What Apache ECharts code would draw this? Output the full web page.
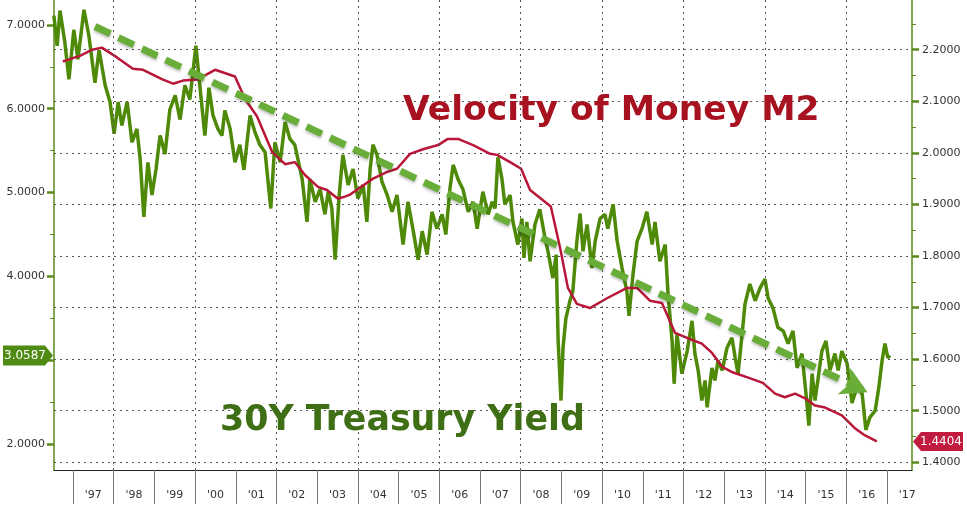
<!DOCTYPE html>
<html>
<head>
<meta charset="utf-8">
<title>30Y Treasury Yield vs Velocity of Money M2</title>
<script src="https://cdn.jsdelivr.net/npm/echarts@6/dist/echarts.min.js"></script>
<style>
  html, body { margin: 0; padding: 0; background: #fff; }
  #chart { width: 967px; height: 509px; }
</style>
</head>
<body>
<div id="chart"></div>
<script>
// 30Y Treasury yield, left axis: [year, %]
var yieldData = [
  [1996.53,7.11],[1996.61,6.75],[1996.68,7.17],[1996.80,6.79],[1996.90,6.35],[1997.02,6.94],
  [1997.12,6.59],[1997.27,7.18],[1997.39,6.87],[1997.54,6.31],[1997.64,6.70],[1997.79,6.28],
  [1997.91,6.08],[1998.01,5.70],[1998.11,6.08],[1998.20,5.80],[1998.33,6.08],[1998.45,5.60],
  [1998.57,5.76],[1998.65,5.40],[1998.74,4.71],[1998.84,5.36],[1998.94,4.97],[1999.04,5.28],
  [1999.14,5.68],[1999.26,5.46],[1999.38,5.99],[1999.51,6.16],[1999.63,5.87],[1999.75,6.28],
  [1999.87,6.11],[2000.02,6.75],[2000.10,6.35],[2000.24,5.68],[2000.34,6.25],[2000.44,5.92],
  [2000.56,5.76],[2000.66,5.68],[2000.73,5.98],[2000.86,5.76],[2000.98,5.36],[2001.10,5.57],
  [2001.20,5.27],[2001.35,5.92],[2001.47,5.72],[2001.59,5.57],[2001.72,5.48],[2001.86,4.81],
  [2001.96,5.60],[2002.09,5.36],[2002.21,5.84],[2002.33,5.64],[2002.45,5.57],[2002.63,5.16],
  [2002.75,4.65],[2002.82,5.16],[2002.95,4.89],[2003.07,5.04],[2003.19,4.74],[2003.27,5.01],
  [2003.36,4.81],[2003.44,4.20],[2003.54,4.97],[2003.63,5.45],[2003.76,5.09],[2003.88,5.28],
  [2004.00,4.93],[2004.13,5.09],[2004.22,4.65],[2004.30,5.28],[2004.37,5.57],[2004.47,5.45],
  [2004.59,5.13],[2004.72,4.97],[2004.84,4.77],[2004.96,4.97],[2005.11,4.38],[2005.23,4.89],
  [2005.35,4.57],[2005.48,4.20],[2005.58,4.54],[2005.70,4.26],[2005.82,4.77],[2005.94,4.57],
  [2006.07,4.74],[2006.16,4.50],[2006.26,5.04],[2006.34,5.33],[2006.46,5.16],[2006.58,5.04],
  [2006.71,4.77],[2006.83,4.89],[2006.93,4.57],[2007.07,5.01],[2007.20,4.74],[2007.30,4.89],
  [2007.37,4.81],[2007.44,5.42],[2007.54,5.16],[2007.61,4.86],[2007.74,4.97],[2007.81,4.65],
  [2007.93,4.38],[2008.03,4.69],[2008.08,4.22],[2008.15,4.65],[2008.23,4.18],[2008.35,4.62],
  [2008.47,4.80],[2008.60,4.45],[2008.67,4.30],[2008.79,3.98],[2008.87,4.26],[2008.92,3.23],
  [2008.99,2.52],[2009.04,3.15],[2009.11,3.50],[2009.21,3.71],[2009.28,3.82],[2009.38,4.42],
  [2009.46,4.75],[2009.53,4.30],[2009.63,4.62],[2009.75,4.10],[2009.83,4.42],[2009.95,4.69],
  [2010.07,4.74],[2010.14,4.57],[2010.27,4.86],[2010.37,4.42],[2010.49,4.10],[2010.61,3.82],
  [2010.66,3.53],[2010.76,4.03],[2010.86,4.42],[2010.98,4.57],[2011.10,4.77],[2011.23,4.38],
  [2011.30,4.65],[2011.42,4.18],[2011.55,4.38],[2011.62,3.79],[2011.72,3.23],[2011.77,2.72],
  [2011.84,3.31],[2011.96,2.84],[2012.09,3.11],[2012.21,3.47],[2012.28,3.08],[2012.36,2.88],
  [2012.45,2.52],[2012.53,2.76],[2012.58,2.44],[2012.70,2.91],[2012.77,2.76],[2012.85,3.00],
  [2012.95,2.88],[2013.07,3.15],[2013.19,3.27],[2013.27,3.03],[2013.34,2.84],[2013.44,3.31],
  [2013.51,3.67],[2013.63,3.91],[2013.76,3.71],[2013.88,3.86],[2014.00,3.97],[2014.08,3.74],
  [2014.20,3.62],[2014.32,3.39],[2014.45,3.35],[2014.57,3.20],[2014.69,3.35],[2014.79,2.91],
  [2014.91,3.08],[2015.01,2.60],[2015.08,2.22],[2015.16,2.84],[2015.23,2.52],[2015.30,2.76],
  [2015.40,3.11],[2015.50,3.23],[2015.60,2.88],[2015.72,3.08],[2015.80,2.88],[2015.89,3.11],
  [2016.02,2.96],[2016.14,2.49],[2016.26,2.68],[2016.39,2.60],[2016.48,2.17],[2016.58,2.32],
  [2016.71,2.40],[2016.80,2.68],[2016.88,3.00],[2016.95,3.20],[2017.02,3.03],[2017.07,3.0587]
];

// Velocity of M2, right axis: [year, ratio]
var velocityData = [
  [1996.75,2.177],[1997.05,2.185],[1997.17,2.188],[1997.47,2.200],[1997.71,2.204],[1998.08,2.185],
  [1998.47,2.163],[1998.72,2.161],[1999.21,2.142],[1999.46,2.134],[1999.70,2.140],[2000.05,2.142],
  [2000.49,2.161],[2000.98,2.148],[2001.23,2.104],[2001.52,2.071],[2001.89,2.002],[2002.21,1.978],
  [2002.45,1.982],[2002.70,1.957],[2003.02,1.934],[2003.24,1.928],[2003.51,1.911],[2003.68,1.915],
  [2003.81,1.919],[2004.37,1.950],[2004.72,1.963],[2004.96,1.969],[2005.28,1.998],[2005.60,2.007],
  [2005.97,2.015],[2006.21,2.027],[2006.46,2.027],[2006.83,2.015],[2007.25,1.998],[2007.42,1.996],
  [2007.74,1.982],[2008.01,1.969],[2008.23,1.928],[2008.74,1.896],[2008.97,1.815],[2009.16,1.738],
  [2009.38,1.707],[2009.70,1.699],[2010.12,1.718],[2010.61,1.738],[2010.86,1.738],[2011.18,1.713],
  [2011.47,1.709],[2011.79,1.651],[2012.09,1.641],[2012.45,1.630],[2012.70,1.612],[2012.95,1.585],
  [2013.22,1.574],[2013.59,1.564],[2013.95,1.554],[2014.25,1.533],[2014.49,1.526],[2014.74,1.533],
  [2014.99,1.524],[2015.23,1.510],[2015.48,1.506],[2015.89,1.491],[2016.21,1.466],[2016.46,1.452],
  [2016.75,1.4404]
];

var yearTicks = [1997,1998,1999,2000,2001,2002,2003,2004,2005,2006,2007,
                 2008,2009,2010,2011,2012,2013,2014,2015,2016,2017];
var gridYears = [1998,2000,2002,2004,2006,2008,2010,2012,2014,2016];
var yieldTicks = [2, 3, 4, 5, 6, 7];
var yieldMinorTicks = [2.5, 3.5, 4.5, 5.5, 6.5];
var velocityTicks = [1.4, 1.5, 1.6, 1.7, 1.8, 1.9, 2.0, 2.1, 2.2];
var velocityMinorTicks = [1.45, 1.55, 1.65, 1.75, 1.85, 1.95, 2.05, 2.15, 2.25];

var xRange = [1996.533, 2017.614];
var yieldRange = [1.692, 7.296];
var velocityRange = [1.385, 2.2963];
var trendFrom = [1997.54, 6.98];
var trendTo = [2016.52, 2.62];

var lastYield = yieldData[yieldData.length - 1];
var lastVelocity = velocityData[velocityData.length - 1];

var FONT = '"DejaVu Sans", Verdana, sans-serif';
var AXIS_GREEN = '#5b8a1c';
var DOTS = { color: '#555', width: 1, type: [2, 4] };

function isStep(v, step) {
  var r = v / step;
  return Math.abs(r - Math.round(r)) < 1e-6;
}

// a second, bare axis on the same side that only carries the short minor ticks
function minorAxis(position, range, values) {
  return {
    type: 'value', position: position, min: range[0], max: range[1],
    axisLine: { show: false },
    axisTick: { show: true, length: 4, customValues: values, lineStyle: { color: AXIS_GREEN, width: 1 } },
    axisLabel: { show: false },
    splitLine: { show: false }
  };
}

var chart = echarts.init(document.getElementById('chart'));

var option = {
  backgroundColor: '#fff',
  animation: false,
  grid: { left: 54, right: 55, top: -3, bottom: 39 },
  xAxis: [
    {
      // year boundaries: long ticks under the axis
      type: 'value', min: xRange[0], max: xRange[1],
      minInterval: 1, maxInterval: 1,
      axisLine: { show: true, lineStyle: { color: '#222', width: 1 } },
      axisTick: { show: true, length: 34, customValues: yearTicks, lineStyle: { color: '#777', width: 1 } },
      axisLabel: { show: false },
      splitLine: { show: false }
    },
    {
      // labels centred inside each year
      type: 'value', min: xRange[0] - 0.5, max: xRange[1] - 0.5,
      minInterval: 1, maxInterval: 1, position: 'bottom',
      axisLine: { show: false }, axisTick: { show: false },
      axisLabel: {
        margin: 20, color: '#333', fontSize: 11, fontFamily: FONT,
        formatter: function (v) { return isStep(v, 1) ? "'" + String(Math.round(v)).slice(2) : ''; }
      },
      splitLine: { show: false }
    }
  ],
  yAxis: [
    {
      type: 'value', position: 'left', min: yieldRange[0], max: yieldRange[1],
      minInterval: 1, maxInterval: 1,
      axisLine: { show: true, lineStyle: { color: AXIS_GREEN, width: 1.5 } },
      axisTick: { show: true, length: 7, customValues: yieldTicks, lineStyle: { color: AXIS_GREEN, width: 2.5 } },
      axisLabel: {
        margin: 9, color: '#333', fontSize: 11, fontFamily: FONT,
        formatter: function (v) { return isStep(v, 1) ? v.toFixed(4) : ''; }
      },
      splitLine: { show: false }
    },
    {
      type: 'value', position: 'right', min: velocityRange[0], max: velocityRange[1],
      minInterval: 0.1, maxInterval: 0.1,
      axisLine: { show: true, lineStyle: { color: AXIS_GREEN, width: 1.5 } },
      axisTick: { show: true, length: 7, customValues: velocityTicks, lineStyle: { color: AXIS_GREEN, width: 2.5 } },
      axisLabel: {
        margin: 10, color: '#333', fontSize: 11, fontFamily: FONT,
        formatter: function (v) { return isStep(v, 0.1) ? v.toFixed(4) : ''; }
      },
      splitLine: { show: true, lineStyle: DOTS }
    },
    minorAxis('left', yieldRange, yieldMinorTicks),
    minorAxis('right', velocityRange, velocityMinorTicks)
  ],
  series: [
    {
      // carrier for the two-year vertical grid lines
      type: 'line', xAxisIndex: 0, yAxisIndex: 0, data: [], z: 1,
      markLine: {
        silent: true, symbol: 'none', label: { show: false },
        lineStyle: DOTS,
        data: gridYears.map(function (y) { return { xAxis: y }; })
      }
    },
    {
      name: '30Y Treasury Yield',
      type: 'line',
      xAxisIndex: 0, yAxisIndex: 0,
      data: yieldData,
      showSymbol: false,
      lineStyle: { color: '#4e8a08', width: 3.5 },
      itemStyle: { color: '#4e8a08' },
      z: 2,
      markLine: {
        silent: true,
        symbol: ['none', 'arrow'],
        symbolSize: [22, 26],
        label: { show: false },
        lineStyle: {
          color: '#69ad39', width: 7, type: [17, 9], opacity: 1,
          shadowBlur: 3, shadowColor: 'rgba(0,0,0,0.25)', shadowOffsetY: 2
        },
        data: [[{ coord: trendFrom }, { coord: trendTo }]]
      },
      markPoint: {
        silent: true,
        symbol: 'path://M0,0 L42,0 L50,10 L42,20 L0,20 Z',
        symbolSize: [50, 20],
        symbolKeepAspect: false,
        symbolOffset: [-26, 0],
        itemStyle: { color: '#4f8b12' },
        label: {
          show: true, position: 'inside', color: '#fff', fontSize: 12, fontFamily: FONT,
          offset: [-3, 0],
          formatter: function () { return lastYield[1].toFixed(4); }
        },
        data: [{ coord: [xRange[0], lastYield[1]], value: lastYield[1] }]
      }
    },
    {
      name: 'Velocity of Money M2',
      type: 'line',
      xAxisIndex: 0, yAxisIndex: 1,
      data: velocityData,
      showSymbol: false,
      lineStyle: { color: '#b9173a', width: 2.5 },
      itemStyle: { color: '#b9173a' },
      z: 3,
      markPoint: {
        silent: true,
        symbol: 'path://M8,0 L50,0 L50,20 L8,20 L0,10 Z',
        symbolSize: [50, 19],
        symbolKeepAspect: false,
        symbolOffset: [26, 0],
        itemStyle: { color: '#c11b40' },
        label: {
          show: true, position: 'inside', color: '#fff', fontSize: 12, fontFamily: FONT,
          offset: [3, 0],
          formatter: function () { return lastVelocity[1].toFixed(4); }
        },
        data: [{ coord: [xRange[1], lastVelocity[1]], value: lastVelocity[1] }]
      }
    }
  ],
  graphic: [
    {
      type: 'text', x: 403, y: 111, z: 10,
      style: {
        text: 'Velocity of Money M2', fill: '#a8111f',
        font: 'bold 34.5px "DejaVu Sans", Verdana, sans-serif',
        align: 'left', verticalAlign: 'middle'
      }
    },
    {
      type: 'text', x: 220, y: 421, z: 10,
      style: {
        text: '30Y Treasury Yield', fill: '#3f6f14',
        font: 'bold 34.8px "DejaVu Sans", Verdana, sans-serif',
        align: 'left', verticalAlign: 'middle'
      }
    }
  ]
};

chart.setOption(option);
</script>
</body>
</html>
